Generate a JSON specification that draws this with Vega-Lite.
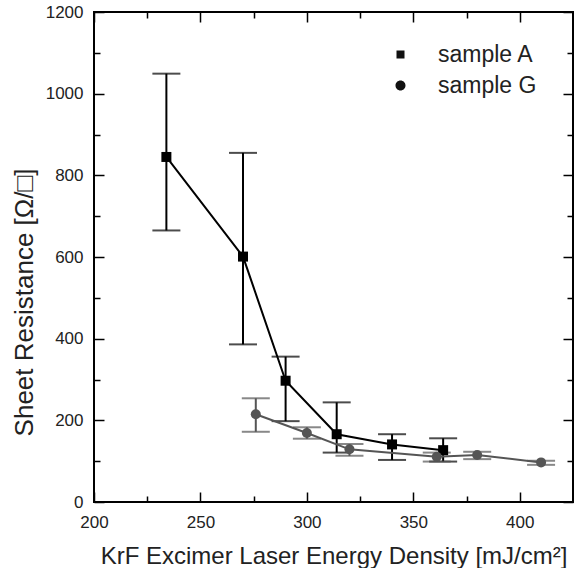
{
  "$schema": "https://vega.github.io/schema/vega-lite/v6.json",
  "width": 479,
  "height": 490,
  "autosize": "none",
  "padding": {"left": 94, "top": 12, "right": 5, "bottom": 66},
  "background": "white",
  "config": {"font": "Liberation Sans", "view": {"stroke": "#000000", "strokeWidth": 2}},
  "data": {
    "values": [
      {"series": "sample A", "x": 234, "y": 845, "lo": 665, "hi": 1049},
      {"series": "sample A", "x": 270, "y": 601, "lo": 386, "hi": 855},
      {"series": "sample A", "x": 290, "y": 297, "lo": 198, "hi": 356},
      {"series": "sample A", "x": 314, "y": 166, "lo": 121, "hi": 244},
      {"series": "sample A", "x": 340, "y": 141, "lo": 103, "hi": 166},
      {"series": "sample A", "x": 364, "y": 127, "lo": 99, "hi": 156},
      {"series": "sample G", "x": 276, "y": 215, "lo": 172, "hi": 254},
      {"series": "sample G", "x": 300, "y": 169, "lo": 155, "hi": 183},
      {"series": "sample G", "x": 320, "y": 129, "lo": 113, "hi": 142},
      {"series": "sample G", "x": 361, "y": 111, "lo": 99, "hi": 121},
      {"series": "sample G", "x": 380, "y": 115, "lo": 105, "hi": 123},
      {"series": "sample G", "x": 410, "y": 97, "lo": 91, "hi": 101}
    ]
  },
  "layer": [
    {
      "mark": {"type": "rule", "strokeWidth": 2},
      "encoding": {
        "x": {"field": "x", "type": "quantitative", "scale": {"domain": [200, 425], "nice": false, "zero": false}, "axis": null},
        "y": {"field": "lo", "type": "quantitative", "scale": {"domain": [0, 1200], "nice": false}, "axis": null},
        "y2": {"field": "hi"},
        "color": {"field": "series", "type": "nominal", "scale": {"domain": ["sample A", "sample G"], "range": ["#000000", "#555555"]}, "legend": null}
      }
    },
    {
      "mark": {"type": "tick", "orient": "horizontal", "size": 28, "thickness": 2},
      "encoding": {
        "x": {"field": "x", "type": "quantitative", "axis": null},
        "y": {"field": "lo", "type": "quantitative", "axis": null},
        "color": {"field": "series", "type": "nominal", "legend": null}
      }
    },
    {
      "mark": {"type": "tick", "orient": "horizontal", "size": 28, "thickness": 2},
      "encoding": {
        "x": {"field": "x", "type": "quantitative", "axis": null},
        "y": {"field": "hi", "type": "quantitative", "axis": null},
        "color": {"field": "series", "type": "nominal", "legend": null}
      }
    },
    {
      "mark": {"type": "line", "strokeWidth": 2},
      "encoding": {
        "x": {
          "field": "x", "type": "quantitative",
          "axis": {
            "orient": "bottom", "offset": -10, "domain": false,
            "values": [200, 225, 250, 275, 300, 325, 350, 375, 400],
            "labelExpr": "datum.value % 50 === 0 ? datum.label : ''",
            "tickSize": 10,
            "tickDash": {"condition": {"test": "datum.value % 50 === 0", "value": [10, 0]}, "value": [0, 4, 6, 0]},
            "tickColor": "#000000", "tickWidth": 1.5,
            "labelFontSize": 17, "labelColor": "#222222", "labelPadding": 12, "labelFlush": false,
            "grid": false,
            "title": "KrF Excimer Laser Energy Density [mJ/cm²]",
            "titleFontSize": 24, "titleFontWeight": "normal", "titleColor": "#222222", "titlePadding": 14
          }
        },
        "y": {
          "field": "y", "type": "quantitative",
          "axis": {
            "orient": "left", "offset": -10, "domain": false,
            "values": [0, 100, 200, 300, 400, 500, 600, 700, 800, 900, 1000, 1100, 1200],
            "labelExpr": "datum.value % 200 === 0 ? datum.label : ''",
            "format": "d",
            "tickSize": 10,
            "tickDash": {"condition": {"test": "datum.value % 200 === 0", "value": [10, 0]}, "value": [0, 4, 6, 0]},
            "tickColor": "#000000", "tickWidth": 1.5,
            "labelFontSize": 17, "labelColor": "#222222", "labelPadding": 11, "labelFlush": false,
            "grid": false,
            "title": "Sheet Resistance [Ω/□]",
            "titleFontSize": 26, "titleFontWeight": "normal", "titleColor": "#222222",
            "titleX": -67, "titleY": 290
          }
        },
        "color": {"field": "series", "type": "nominal", "legend": null}
      }
    },
    {
      "mark": {"type": "point", "filled": true, "size": 100, "opacity": 1},
      "encoding": {
        "x": {
          "field": "x", "type": "quantitative",
          "axis": {
            "orient": "top", "offset": -10, "domain": false,
            "values": [200, 225, 250, 275, 300, 325, 350, 375, 400],
            "labels": false,
            "tickSize": 10,
            "tickDash": {"condition": {"test": "datum.value % 50 === 0", "value": [10, 0]}, "value": [0, 4, 6, 0]},
            "tickColor": "#000000", "tickWidth": 1.5,
            "grid": false, "title": null
          }
        },
        "y": {
          "field": "y", "type": "quantitative",
          "axis": {
            "orient": "right", "offset": -10, "domain": false,
            "values": [0, 100, 200, 300, 400, 500, 600, 700, 800, 900, 1000, 1100, 1200],
            "labels": false,
            "tickSize": 10,
            "tickDash": {"condition": {"test": "datum.value % 200 === 0", "value": [10, 0]}, "value": [0, 4, 6, 0]},
            "tickColor": "#000000", "tickWidth": 1.5,
            "grid": false, "title": null
          }
        },
        "color": {"field": "series", "type": "nominal", "legend": null},
        "shape": {"field": "series", "type": "nominal", "scale": {"domain": ["sample A", "sample G"], "range": ["square", "circle"]}, "legend": null}
      }
    },
    {
      "transform": [{"filter": "false"}],
      "mark": {"type": "point", "filled": false, "fill": "#111111", "stroke": "#111111", "strokeWidth": 2, "size": 100, "opacity": 1},
      "encoding": {
        "x": {"field": "x", "type": "quantitative", "axis": null},
        "y": {"field": "y", "type": "quantitative", "axis": null},
        "shape": {
          "field": "series", "type": "nominal",
          "scale": {"domain": ["sample A", "sample G"], "range": ["M-6,0H6M-0.8,-0.8H0.8V0.8H-0.8Z", "M-6,0H6M-1,0A1,1 0 1,0 1,0A1,1 0 1,0 -1,0Z"]},
          "title": null,
          "legend": {
            "orient": "none", "legendX": 295, "legendY": 31,
            "padding": 0, "symbolSize": 100, "symbolStrokeWidth": 2,
            "symbolStrokeColor": "#111111", "symbolFillColor": "#111111",
            "labelFontSize": 23, "labelColor": "#222222", "labelOffset": 26,
            "rowPadding": 7, "symbolOpacity": 1
          }
        }
      }
    }
  ],
  "resolve": {"axis": {"x": "independent", "y": "independent"}, "scale": {"shape": "independent"}}
}
